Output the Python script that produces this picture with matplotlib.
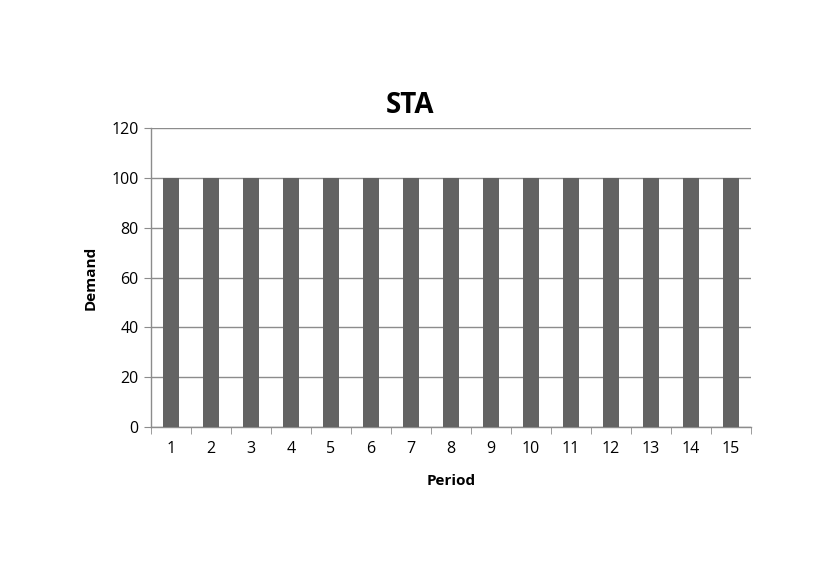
import numpy as np
import matplotlib.pyplot as plt

plt.rcParams['font.family'] = ['Open Sans', 'DejaVu Sans']

# data
periods = list(range(1, 16))
demand = [100] * 15
yticks = [0, 20, 40, 60, 80, 100, 120]

fig = plt.figure(figsize=(8.3, 5.87), dpi=100)
ax = fig.add_axes([0.1819, 0.2726, 0.7229, 0.5093])

x = np.arange(len(periods))
ax.bar(x, demand, width=0.4, color='#636363', zorder=3)

ax.set_xlim(-0.5, len(periods) - 0.5)
ax.set_ylim(0, 120)
ax.set_yticks(yticks)
ax.set_xticks(x)
ax.set_xticklabels([str(p) for p in periods])
ax.set_xticks(np.arange(-0.5, len(periods)), minor=True)

ax.grid(axis='y', color='#8c8c8c', linewidth=1.0, zorder=0)
for s in ['top', 'right']:
    ax.spines[s].set_visible(False)
for s in ['left', 'bottom']:
    ax.spines[s].set_color('#8c8c8c')
    ax.spines[s].set_linewidth(1.0)

ax.tick_params(axis='x', which='major', length=0, pad=10, labelsize=11.5)
ax.tick_params(axis='x', which='minor', length=5, color='#8c8c8c')
ax.tick_params(axis='y', length=5, color='#8c8c8c', labelsize=11.5, pad=4)

# title centred on the whole chart area, like the original
fig.text(0.494, 0.82, 'STA', fontsize=20, fontweight='bold', ha='center', va='center')
ax.set_xlabel('Period', fontsize=11, fontweight='bold', labelpad=12)
ax.set_ylabel('Demand', fontsize=11, fontweight='bold', labelpad=10)

fig.savefig('out.png', dpi=100)
